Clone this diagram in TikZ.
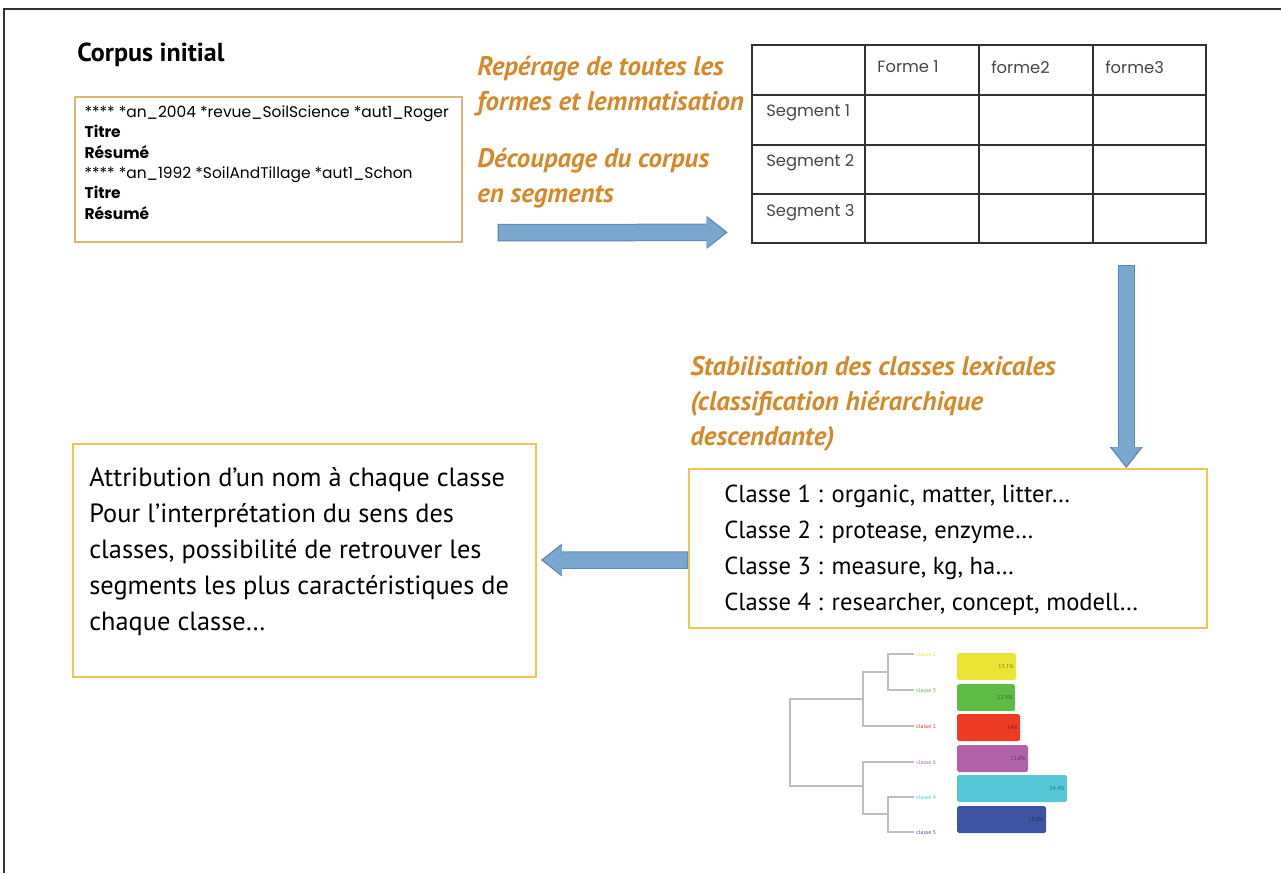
\documentclass[tikz,border=0pt]{standalone}
\usepackage{fontspec}
\setmainfont{PT Sans}
\newfontfamily\gothic{Poppins}
\usetikzlibrary{positioning,arrows.meta,calc}

\definecolor{stepcol}{RGB}{212,137,43}
\definecolor{tanline}{RGB}{216,182,116}
\definecolor{goldline}{RGB}{247,195,80}
\definecolor{arrowfill}{RGB}{123,167,207}
\definecolor{arrowline}{RGB}{92,136,180}
\definecolor{gridcol}{RGB}{50,50,50}
\definecolor{treecol}{RGB}{190,190,190}
\definecolor{cyel}{RGB}{235,229,54}
\definecolor{cgre}{RGB}{93,187,70}
\definecolor{cred}{RGB}{238,59,36}
\definecolor{cpur}{RGB}{176,98,168}
\definecolor{ccya}{RGB}{86,199,214}
\definecolor{cblu}{RGB}{62,84,163}

\tikzset{
  steptext/.style={text=stepcol, font=\fontsize{15.3}{20}\selectfont\bfseries\itshape, align=left, inner sep=0pt, anchor=west},
  boxtext/.style={font=\fontsize{14}{20.5}\selectfont, align=left, inner sep=0pt, anchor=west},
  framebox/.style={draw=goldline, line width=0.04cm, fill=white, inner sep=0pt},
  fatarrow/.style={line width=0.31cm, draw=arrowfill, shorten <=0.6pt, shorten >=1.2pt,
    -{Triangle[length=0.38cm, width=0.6cm, line width=0pt]},
    preaction={draw=arrowline, line width=0.35cm, shorten <=0pt, shorten >=0pt,
      -{Triangle[length=0.42cm, width=0.66cm, line width=0pt]}}},
  gothic/.style={font=\gothic\fontsize{8.8}{11.6}\selectfont, inner sep=0pt},
  cell/.style={font=\gothic\fontsize{9.3}{10}\selectfont, text=gridcol!90, inner sep=0pt, anchor=west},
  gridline/.style={draw=gridcol, line width=0.045cm},
  branch/.style={draw=treecol, line width=0.05cm},
  leaf/.style={font=\fontsize{3.3}{4}\selectfont, inner sep=0pt, anchor=west},
}

\begin{document}
\begin{tikzpicture}[x=0.02cm, y=-0.02cm]
\useasboundingbox (0,0) rectangle (1281,873);

% outer frame
\draw[gridcol, line width=0.04cm] (4,873) -- (4,9) -- (1281,9);

% corpus
\node[font=\fontsize{14.8}{17}\selectfont\bfseries, anchor=west, inner sep=0pt] (title) at (77,55) {Corpus initial};
\node[draw=tanline, line width=0.03cm, minimum width=7.74cm, minimum height=2.9cm, inner sep=0pt] (corpus) at (268.5,169.5) {};
\node[gothic, anchor=north west, align=left] (corpustxt) at ([shift={(10,9)}]corpus.north west)
  {**** *an\_2004 *revue\_SoilScience *aut1\_Roger\\
   \textbf{Titre}\\
   \textbf{Résumé}\\
   **** *an\_1992 *SoilAndTillage *aut1\_Schon\\
   \textbf{Titre}\\
   \textbf{Résumé}};

% steps
\node[steptext] (step1) at (477,86) {Repérage de toutes les\\formes et lemmatisation};
\node[steptext] (step2) at (477,178) {Découpage du corpus\\en segments};
\node[steptext] (step3) at (690,404) {Stabilisation des classes lexicales\\(classification hiérarchique\\descendante)};

% table
\node[minimum width=9.08cm, minimum height=3.96cm, inner sep=0pt] (table) at (979,144) {};
\foreach \cx in {865,979,1093}
  \draw[gridline] (\cx,45) -- (\cx,243);
\foreach \cy in {95,145,194}
  \draw[gridline] (752,\cy) -- (1206,\cy);
\draw[gridline] (table.north west) rectangle (table.south east);
\node[cell] (form1) at (877,67) {Forme 1};
\node[cell] (form2) at (991,67) {forme2};
\node[cell] (form3) at (1105,67) {forme3};
\foreach \i/\cy in {1/113,2/163,3/213}
  \node[cell] (seg\i) at (766,\cy) {Segment \i};

% classes
\node[framebox, minimum width=10.36cm, minimum height=3.18cm] (classes) at (948,548.5) {};
\node[boxtext] (classtxt) at (724,550.5)
  {Classe 1 : organic, matter, litter…\\
   Classe 2 : protease, enzyme…\\
   Classe 3 : measure, kg, ha…\\
   Classe 4 : researcher, concept, modell…};

\node[framebox, minimum width=9.26cm, minimum height=4.66cm] (naming) at (304.5,560.5) {};
\node[boxtext, font=\fontsize{15}{20.5}\selectfont] (namingtxt) at (89,551.5)
  {Attribution d’un nom à chaque classe\\
   Pour l’interprétation du sens des\\
   classes, possibilité de retrouver les\\
   segments les plus caractéristiques de\\
   chaque classe…};

% arrows
\coordinate (r0) at ([shift={(35,-10)}]corpus.south east);
\coordinate (r1) at ([shift={(-24,-11)}]table.south west);
\draw[fatarrow] (r0) -- (r1);
\coordinate (d0) at ([shift={(-80,22)}]table.south east);
\draw[fatarrow] (d0) -- (d0 |- classes.north);
\coordinate (l0) at ([shift={(0,11.5)}]classes.west);
\coordinate (l1) at ([shift={(4,-0.5)}]naming.east);
\draw[fatarrow] (l0) -- (l1);

% dendrogram
\draw[branch] (914,654) -- (888,654) -- (888,690) -- (914,690);
\draw[branch] (888,672) -- (863,672) -- (863,726) -- (914,726);
\draw[branch] (863,699) -- (790,699) -- (790,786) -- (863,786);
\draw[branch] (914,762) -- (863,762) -- (863,814) -- (888,814);
\draw[branch] (914,797) -- (888,797) -- (888,832) -- (914,832);
\foreach \col/\num/\ly/\top/\right/\pct in {cyel/2/654/653/1016/13.1,cgre/3/690/684/1015/12.9,cred/1/726/714/1020/14,cpur/6/762/745/1028/15.8,ccya/4/797/775/1067/24.4,cblu/5/832/806/1046/19.8}{
  \node[leaf, text=\col] (leaf\num) at (916,\ly) {classe \num};
  \fill[\col, rounded corners=1pt] (957,\top) rectangle (\right,\top+27);
  \node[leaf, anchor=east, text=\col!55!black] (pct\num) at (\right-2,\top+13.5) {\pct\%};
}
\end{tikzpicture}
\end{document}
